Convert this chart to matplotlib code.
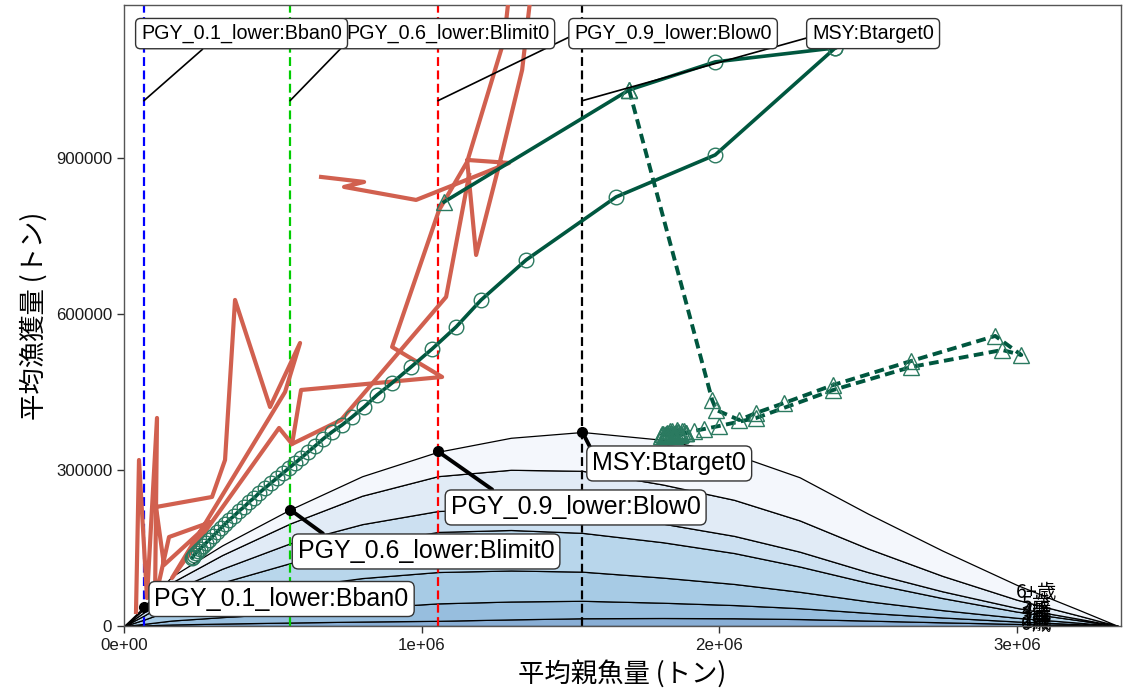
import matplotlib
matplotlib.use("Agg")
import matplotlib.pyplot as plt
import numpy as np

CJK = ["Noto Sans CJK JP", "DejaVu Sans"]
plt.rcParams["font.family"] = ["Liberation Sans", "DejaVu Sans"]

# equilibrium yield split by age, along spawning biomass (tons)
yield_ssb = [0, 67000, 160000, 330000, 558000, 800000, 1055000, 1300000, 1540000,
             1810000, 2050000, 2270000, 2500000, 2750000, 3000000, 3200000, 3340000]
age_names = ["0歳", "1歳", "2歳", "3歳", "4歳", "5歳", "6+歳"]
yield_age0 = [0, 1100, 2900, 4700, 6700, 8600, 10000, 12700, 14900, 15400, 14900, 13400, 10400, 7100, 4000, 1700, 0]
yield_age1 = [0, 3000, 7600, 12400, 17900, 25900, 33500, 34400, 33600, 29400, 25400, 20900, 14900, 9300, 4700, 2000, 0]
yield_age2 = [0, 8100, 20900, 34100, 49300, 57600, 60300, 59700, 56000, 48300, 40600, 31500, 22200, 14100, 7100, 3000, 0]
yield_age3 = [0, 7800, 20000, 32500, 47000, 63400, 77100, 77800, 74600, 68000, 59400, 48600, 35600, 23200, 11900, 5000, 0]
yield_age4 = [0, 6300, 16100, 26400, 38100, 40300, 40200, 41600, 41000, 35800, 33000, 28600, 20500, 13000, 7100, 3000, 0]
yield_age5 = [0, 6300, 16100, 26400, 38100, 54700, 67000, 74200, 78300, 75200, 69300, 60100, 45400, 29700, 15800, 6600, 0]
yield_age6 = [0, 4400, 11400, 18500, 26900, 37400, 46900, 61500, 74600, 85900, 87400, 82900, 67000, 48600, 28400, 11700, 0]
age_colors = ["#88AED5", "#97BEDE", "#A7CBE5", "#B8D6EB", "#CCE0F1", "#E1EBF6", "#F4F7FC"]

# reference points
ref_labels = ["PGY_0.1_lower:Bban0", "PGY_0.6_lower:Blimit0", "PGY_0.9_lower:Blow0", "MSY:Btarget0"]
ref_ssb = [67000, 558000, 1055000, 1540000]
ref_yield = [37300, 223800, 335700, 373000]
ref_colors = ["#0000FF", "#00CD00", "#FF0000", "#000000"]

# observed history (spawning biomass, catch)
hist_ssb = [40300, 50400, 77300, 110900, 104200, 151300, 292400, 134400, 107600, 295800,
            339500, 373100, 490700, 591600, 541200, 161300, 521000, 564700, 594900, 1068900,
            900800, 1058800, 1152900, 1277300, 1320900, 1364700, 1337800, 1260500, 1183100, 1152900,
            1294100, 981500, 739500, 806700, 662200]
hist_catch = [26900, 319200, 53800, 400000, 50000, 171100, 200000, 117300, 228800, 248100,
              319200, 626900, 421100, 544200, 450000, 92300, 380800, 350000, 453800, 478800,
              536500, 800000, 892300, 1126900, 1357600, 1203800, 1069200, 886500, 713400, 896100,
              890300, 819200, 844200, 853800, 863400]
hist2_ssb = [564700, 729400, 1082300, 1159600]
hist2_catch = [350000, 396100, 632700, 867300]

# projection A (circles)
proj_a_ssb = [2389900, 1986500, 1653700, 1351200, 1200000, 1115900, 1035200, 964700, 900800, 850400,
              806700, 766400, 732700, 699100, 668900, 642000, 618400, 594900, 574800, 554600,
              534400, 514300, 494100, 473900, 453800, 437000, 420200, 403400, 386500, 369700,
              352900, 339500, 326000, 312600, 299100, 285700, 275600, 265500, 255400, 248700,
              242000, 235300, 231900, 228600]
proj_a_catch = [1111500, 905700, 825000, 703800, 626900, 575000, 532700, 498100, 467300, 444200,
                421100, 401900, 386500, 373100, 359600, 346100, 334600, 323100, 313400, 303800,
                294200, 284600, 275000, 265400, 255800, 246100, 238500, 228800, 221100, 211500,
                203800, 196100, 188500, 180800, 173100, 165400, 159600, 153800, 148100, 144200,
                140400, 136500, 132700, 130800]

# projection B: first years (solid) then later years (dashed, triangles)
proj_b0_ssb = [2389900, 1986500, 1697300, 1075600]
proj_b0_catch = [1111500, 1084600, 1030700, 815400]
proj_b_ssb = [1697300, 1976300, 1989800, 2067100, 2124200, 2218300, 2383000, 2645200, 2927500, 3015000,
              2951100, 2645200, 2383000, 2124200, 1999900, 1949500, 1915800, 1889000, 1865400, 1845300,
              1828500, 1815000, 1805000, 1812000, 1826000, 1840000, 1858000, 1875000, 1890000, 1868000,
              1848000, 1830000, 1818000, 1852000, 1880000, 1860000, 1843000, 1822000, 1808000, 1835000,
              1855000, 1872000, 1884000, 1862000, 1838000, 1820000]
proj_b_catch = [1030700, 434600, 415400, 396100, 409600, 428800, 463400, 509600, 557700, 521100,
                530700, 498100, 453800, 400000, 384600, 378800, 375000, 371100, 369200, 367300,
                367300, 365400, 365400, 370000, 372000, 374000, 376000, 375000, 372000, 368000,
                369000, 371000, 368000, 366000, 374000, 373000, 370000, 366000, 369000, 375000,
                371000, 369000, 371000, 373000, 372000, 370000]

fig = plt.figure(figsize=(11.23, 6.95), dpi=100)
ax = fig.add_axes([124 / 1123, 69 / 695, 997 / 1123, 621 / 695])

layers = np.vstack([yield_age0, yield_age1, yield_age2, yield_age3,
                    yield_age4, yield_age5, yield_age6])
ax.stackplot(yield_ssb, layers, colors=age_colors, edgecolor="black",
             linewidth=0.9, zorder=1)

# age labels at the right end of each layer
cum = np.cumsum(layers, axis=0)
for k, name in enumerate(age_names):
    y = np.interp(3066000, yield_ssb, cum[k])
    ax.text(3066000, y, name, ha="center", va="center", fontsize=14,
            family=CJK, zorder=2)

for x, c in zip(ref_ssb, ref_colors):
    ax.axvline(x, color=c, ls=(0, (4, 2)), lw=1.6, zorder=2)

ax.plot(hist_ssb, hist_catch, color="#D1604F", lw=3, zorder=3)
ax.plot(hist2_ssb, hist2_catch, color="#D1604F", lw=3, zorder=3)

green = "#00573F"
medge = "#2B7A60"
ax.plot(proj_a_ssb, proj_a_catch, color=green, lw=2.6, zorder=4)
ax.plot(proj_a_ssb, proj_a_catch, ls="none", marker="o", ms=10.5, mfc="none",
        mec=medge, mew=1.0, zorder=4)
ax.plot(proj_b0_ssb, proj_b0_catch, color=green, lw=2.6, zorder=4)
ax.plot(proj_b0_ssb[:2], proj_b0_catch[:2], ls="none", marker="o", ms=10.5,
        mfc="none", mec=medge, mew=1.0, zorder=4)
ax.plot(proj_b0_ssb[2:], proj_b0_catch[2:], ls="none", marker="^", ms=12,
        mfc="none", mec=medge, mew=1.0, zorder=4)
ax.plot(proj_b_ssb, proj_b_catch, color=green, lw=2.8, ls=(0, (2.5, 1.4)), zorder=4)
ax.plot(proj_b_ssb, proj_b_catch, ls="none", marker="^", ms=12, mfc="none",
        mec=medge, mew=1.0, zorder=4)

# labels on the yield curve
ax.plot(ref_ssb, ref_yield, "o", color="black", ms=7, zorder=6)
low_xy = [(529400, 51900), (1015000, 143300), (1517600, 227900), (1832000, 312500)]
low_rel = [(0, 0.35), (0.13, 1), (0.2, 1), (0.0, 1)]
for name, x, y, pos, rel in zip(ref_labels, ref_ssb, ref_yield, low_xy, low_rel):
    ax.annotate(name, xy=(x, y), xytext=pos, ha="center", va="center", fontsize=18,
                bbox=dict(boxstyle="round,pad=0.22,rounding_size=0.25", fc="white",
                          ec="#333333", lw=1),
                arrowprops=dict(arrowstyle="-", lw=2.8, color="black", relpos=rel,
                                shrinkA=0, shrinkB=0),
                zorder=7)

# labels on the reference lines, along the top
top_y = 1010000
top_xy = [(395000, 1139000), (1087000, 1139000), (1845000, 1139000), (2517000, 1139000)]
top_rel = [(0.34, 0), (0, 0), (0, 0.45), (0, 0.35)]
for i in [3, 2, 1, 0]:
    ax.annotate(ref_labels[i], xy=(ref_ssb[i], top_y), xytext=top_xy[i],
                ha="center", va="center", fontsize=14.2,
                bbox=dict(boxstyle="round,pad=0.28,rounding_size=0.25", fc="white",
                          ec="#333333", lw=1),
                arrowprops=dict(arrowstyle="-", lw=1.2, color="black", relpos=top_rel[i],
                                shrinkA=0, shrinkB=0),
                zorder=8)

ax.set_xlim(0, 3350000)
ax.set_ylim(0, 1194000)
ax.set_xticks([0, 1e6, 2e6, 3e6])
ax.set_xticklabels(["0e+00", "1e+06", "2e+06", "3e+06"])
ax.set_yticks([0, 300000, 600000, 900000])
ax.set_yticklabels(["0", "300000", "600000", "900000"])
ax.tick_params(labelsize=12.2, labelcolor="#1A1A1A", color="#333333", length=5, width=1)
for s in ax.spines.values():
    s.set_color("#555555")
    s.set_linewidth(1)

ax.set_xlabel("平均親魚量 (トン)", fontsize=19, family=CJK, labelpad=5)
ax.set_ylabel("平均漁獲量 (トン)", fontsize=19, family=CJK, labelpad=6)

fig.savefig("out.png", dpi=100)
